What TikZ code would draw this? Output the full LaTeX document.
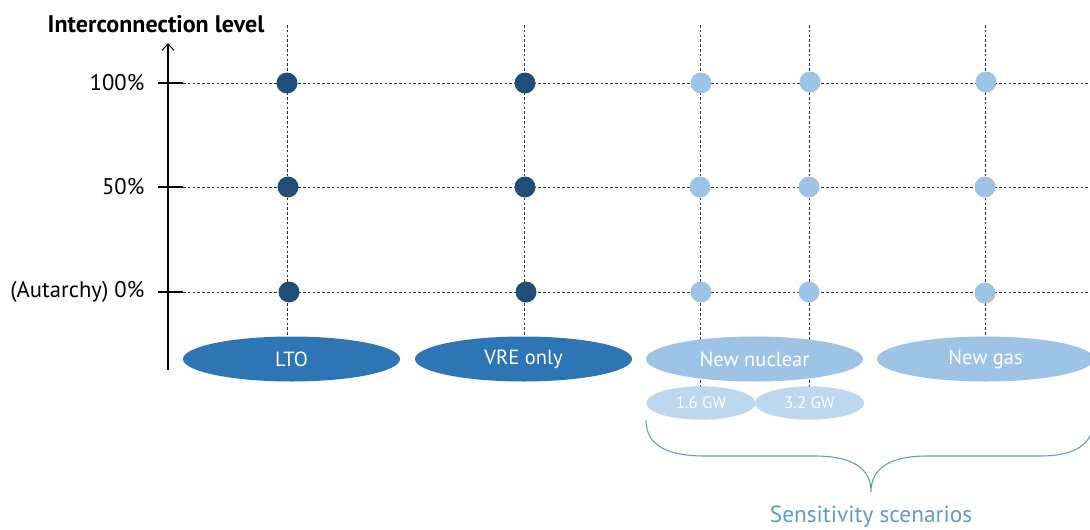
\documentclass[tikz,border=0pt]{standalone}
\usepackage{fontspec}
\setmainfont{PT Sans}
\usetikzlibrary{shapes.geometric, arrows.meta}

\definecolor{dotdark}{HTML}{1F4E79}
\definecolor{ovaldark}{HTML}{2E75B6}
\definecolor{ovallight}{HTML}{9DC3E6}
\definecolor{ovalpale}{HTML}{BDD7EE}
\definecolor{bracecol}{HTML}{5B9BD5}

\tikzset{
  gridline/.style={line width=0.75pt, black!80, dash pattern=on 2pt off 1.6pt},
  dot/.style={circle, inner sep=0pt, minimum size=15.75pt},
  scenario/.style={ellipse, inner sep=0pt, minimum width=162.75pt, minimum height=33.75pt,
    text=white, font=\fontsize{15.4}{18}\selectfont},
  subscenario/.style={ellipse, inner sep=0pt, minimum width=82pt, minimum height=25pt,
    text=white, font=\fontsize{12.5}{15}\selectfont},
  level/.style={anchor=east, font=\fontsize{17}{20}\selectfont}
}

\begin{document}
\begin{tikzpicture}[x=0.75pt, y=-0.75pt]
   \useasboundingbox (0,0) rectangle (1090,529);

   % axis and its title
   \draw[-{Straight Barb[length=5pt, width=9pt]}, line width=0.8pt] (168,370) -- (168,43);
   \node[anchor=base east, font=\fontsize{18}{22}\bfseries] (title) at (269,32) {Interconnection level};

   % levels
   \node[level] (l100) at (149,83) {100\%};
   \node[level] (l50) at (149,187) {50\%};
   \node[level] (l0) at (149,292) {(Autarchy) 0\%};
   \draw[line width=0.8pt] (158,83) -- (183,83);
   \draw[line width=0.8pt] (158,187) -- (183,187);
   \draw[line width=0.8pt] (158,292) -- (183,292);
   \draw[gridline] (183,83) -- (1090,83);
   \draw[gridline] (183,187) -- (1090,187);
   \draw[gridline] (183,292) -- (1090,292);

   % scenario columns
   \draw[gridline] (287,25) -- (287,358);
   \draw[gridline] (524,25) -- (524,358);
   \draw[gridline] (700,25) -- (700,400);
   \draw[gridline] (809,25) -- (809,400);
   \draw[gridline] (985,25) -- (985,358);

   \node[scenario, fill=ovaldark] (lto) at (291.5,359) {LTO};
   \node[scenario, fill=ovaldark] (vre) at (523.5,359) {VRE only};
   \node[scenario, fill=ovallight] (nuc) at (754.5,359) {New nuclear};
   \node[scenario, fill=ovallight] (gas) at (985.5,359) {New gas};
   \node[subscenario, fill=ovalpale] (gw16) at (701,403) {1.6 GW};
   \node[subscenario, fill=ovalpale] (gw32) at (809.5,403) {3.2 GW};

   % results per scenario
   \node[dot, fill=dotdark] (lto100) at (287,83) {};
   \node[dot, fill=dotdark] (lto50) at (288,187) {};
   \node[dot, fill=dotdark] (lto0) at (289,292) {};
   \node[dot, fill=dotdark] (vre100) at (525,83) {};
   \node[dot, fill=dotdark] (vre50) at (525,187) {};
   \node[dot, fill=dotdark] (vre0) at (526,292) {};
   \node[dot, fill=ovallight] (a100) at (701,83) {};
   \node[dot, fill=ovallight] (a50) at (700,187) {};
   \node[dot, fill=ovallight] (a0) at (701,292) {};
   \node[dot, fill=ovallight] (b100) at (810,82) {};
   \node[dot, fill=ovallight] (b50) at (809,187) {};
   \node[dot, fill=ovallight] (b0) at (809,292) {};
   \node[dot, fill=ovallight] (gas100) at (986,82) {};
   \node[dot, fill=ovallight] (gas50) at (985,187) {};
   \node[dot, fill=ovallight] (gas0) at (985,293) {};

   % brace over the sensitivity runs
   \coordinate (bl) at (646,420);
   \coordinate (tip) at (871,492);
   \coordinate (br) at (1094,418);
   \draw[bracecol, line width=0.8pt] (bl) .. controls (646,446) and (668,456) .. (705,456)
      -- (815,456) .. controls (852,456) and (871,468) .. (tip)
      .. controls (871,468) and (890,456) .. (927,456)
      -- (1040,456) .. controls (1076,456) and (1094,444) .. (br);
   \node[text=bracecol, font=\fontsize{17.5}{20}\selectfont, anchor=base] (sens) at (871,522) {Sensitivity scenarios};
\end{tikzpicture}
\end{document}
